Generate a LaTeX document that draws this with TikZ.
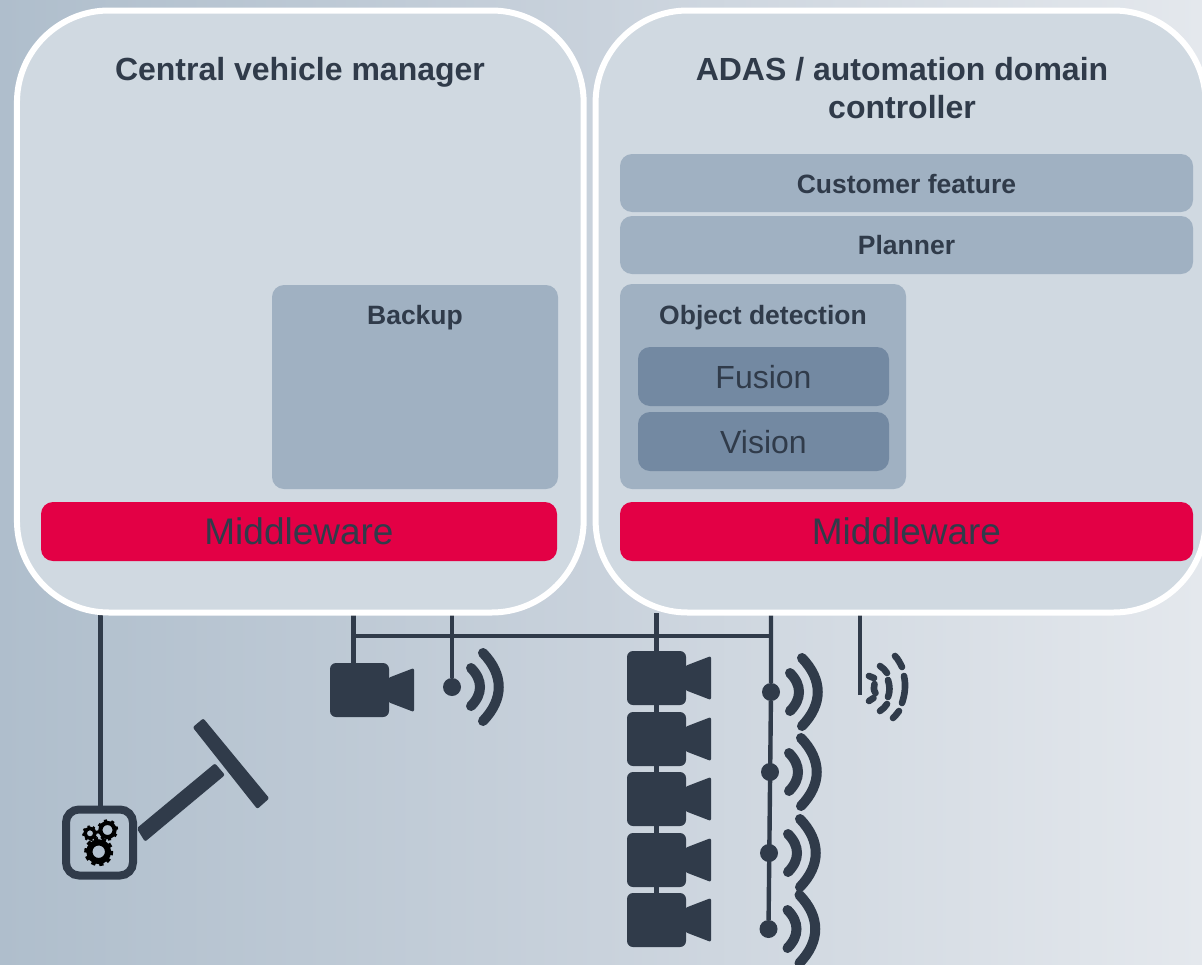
\documentclass[tikz,border=0pt]{standalone}
\usepackage{fontspec}
\setmainfont{Liberation Sans}
\usetikzlibrary{backgrounds}
\definecolor{ink}{HTML}{303B4A}
\definecolor{panel}{HTML}{D0D9E1}
\definecolor{mid}{HTML}{A0B1C2}
\definecolor{deep}{HTML}{7389A2}
\definecolor{red}{HTML}{E30045}
\definecolor{bgl}{HTML}{AFBECC}
\definecolor{bgm}{HTML}{C9D2DC}
\definecolor{bgr}{HTML}{E4E8ED}
\tikzset{
  ecu/.style={rectangle,draw=white,line width=6pt,fill=panel,rounded corners=92pt,inner sep=0,outer sep=0},
  block/.style={rectangle,rounded corners=12pt,fill=mid,inner sep=0,outer sep=0},
  inner/.style={rectangle,rounded corners=12pt,fill=deep,inner sep=0,outer sep=0},
  innertext/.style={text=ink,font=\fontsize{32}{36}\selectfont,inner sep=0},
  mw/.style={rectangle,rounded corners=12pt,fill=red,inner sep=0,outer sep=0,text=ink,font=\fontsize{37}{40}\selectfont},
  titletext/.style={text=ink,font=\bfseries\fontsize{32}{38}\selectfont,align=center,inner sep=0},
  smalltitle/.style={text=ink,font=\bfseries\fontsize{26.5}{30}\selectfont,inner sep=0},
  camerabody/.style={rectangle,rounded corners=6pt,fill=ink,minimum width=59pt,minimum height=54pt,inner sep=0,outer sep=0},
  wavedot/.style={circle,fill=ink,minimum size=18pt,inner sep=0,outer sep=0},
  wire/.style={draw=ink,line width=4.4pt},
  arcline/.style={draw=ink,line width=10pt,line cap=round},
  jam/.style={draw=ink,line width=6.6pt,line cap=round}
}
\newcommand{\camera}[3]{%
  \node[camerabody,anchor=north west] (#1) at (#2,#3) {};
  \fill[ink,rounded corners=2pt,shift={(#2,#3)}] (58,15) -- (84,5) -- (84,49) -- (58,39) -- cycle;
}
\newcommand{\wavesym}[3]{%
  \node[wavedot] (#1) at (#2,#3) {};
  \begin{scope}[shift={(#2,#3)}]
    \draw[arcline] (19,-19) .. controls (31,-7) and (31,7) .. (19,19);
    \draw[arcline] (31,-34) .. controls (52,-12) and (52,12) .. (31,34);
  \end{scope}
}
\newcommand{\gearsym}[5]{%
  \begin{scope}[shift={(#1,#2)}]
    \foreach \a in {0,#5,...,359}{
      \fill[black,rotate=\a+12] (-#3*0.15,-#3) rectangle (#3*0.15,#3*-0.7);
    }
    \draw[black,line width=#3*1pt-#4*1pt-#3*0.14pt] (0,0) circle ({(#3*0.86+#4)/2});
  \end{scope}
}
\begin{document}
\begin{tikzpicture}[x=1pt,y=-1pt]
\useasboundingbox (0,0) rectangle (1202,964);

% controllers
\node[ecu,minimum width=566.7pt,minimum height=602pt] (cvm) at (300.3,311.5) {};
\node[ecu,minimum width=610pt,minimum height=602pt] (adas) at (900.6,311.5) {};
\node[titletext] (cvmtitle) at (300,72) {Central vehicle manager};
\node[titletext] (adastitle) at (902,88) {ADAS / automation domain\\controller};

% left contents
\node[block,minimum width=286pt,minimum height=204pt] (backup) at (415,387) {};
\node[smalltitle] (backuptext) at (415,318) {Backup};
\node[mw,minimum width=516pt,minimum height=59pt] (mwl) at (299,531.5) {Middleware};

% right contents
\node[block,minimum width=573pt,minimum height=58pt] (feature) at (906.5,183) {};
\node[smalltitle] (featuretext) at (906.5,184.5) {Customer feature};
\node[block,minimum width=573pt,minimum height=58pt] (planner) at (906.5,245) {};
\node[smalltitle] (plannertext) at (906.5,245) {Planner};
\node[block,minimum width=286pt,minimum height=205pt] (objdet) at (763,386.5) {};
\node[smalltitle] (objtext) at (763,318) {Object detection};
\node[inner,minimum width=251pt,minimum height=59pt] (fusion) at (763.5,376.5) {};
\node[innertext] (fusiontext) at (763.5,377.5) {Fusion};
\node[inner,minimum width=251pt,minimum height=59pt] (vision) at (763.5,441.5) {};
\node[innertext] (visiontext) at (763.5,442.5) {Vision};
\node[mw,minimum width=573pt,minimum height=59pt] (mwr) at (906.5,531.5) {Middleware};

% cameras
\camera{camA}{330}{663}
\camera{camB}{627}{651}
\camera{camC}{627}{712}
\camera{camD}{627}{772}
\camera{camE}{627}{833}
\camera{camF}{627}{893}

% radars
\wavesym{radA}{452}{687}
\wavesym{radB}{771}{692}
\wavesym{radC}{770}{772}
\wavesym{radD}{769}{853}
\wavesym{radE}{768.5}{929}

% broken radar symbol
\coordinate (jamtop) at (860,695);
\begin{scope}[every path/.style={jam}]
  \draw (895,656) .. controls (898,659) and (900,663) .. (902,667);
  \draw (904,676) .. controls (906,685) and (905,694) .. (902,703);
  \draw (899,711) .. controls (897,714) and (895,716) .. (893,718);
  \draw (880,666) .. controls (883,668) and (885,670) .. (887,673);
  \draw (888,680) .. controls (890,686) and (890,692) .. (888,697);
  \draw (887,704) .. controls (885,707) and (883,709) .. (880,711);
  \draw (869,676) -- (874,678);
  \draw (874.5,684) .. controls (873.5,687) and (873.5,690) .. (875.5,693);
  \draw (873.5,698) -- (869,701);
\end{scope}

% gear unit
\node[rectangle,draw=ink,line width=8pt,rounded corners=13pt,minimum width=67pt,minimum height=66pt,inner sep=0,outer sep=0] (gearbox) at (99.5,842.5) {};
\gearsym{98.7}{851.7}{14.4}{6.3}{36}
\gearsym{107.5}{830}{10.6}{5}{45}
\gearsym{90}{833.3}{7.8}{3.2}{45}

% steering handle
\fill[ink,rounded corners=2pt] (215,763.3) -- (225,775) -- (145,841.7) -- (136.7,828.3) -- cycle;
\fill[ink,rounded corners=2pt] (203.3,718.3) -- (192.7,727.3) -- (257.3,809) -- (269.3,798.3) -- cycle;

% background and connectors, behind the boxes
\coordinate (busL) at (353.5,636);
\coordinate (busR) at (771,636);
\coordinate (camAtop) at (353.5,663);
\begin{scope}[on background layer]
  \fill[left color=bgl,right color=bgm] (0,0) rectangle (601,964);
  \fill[left color=bgm,right color=bgr] (600.5,0) rectangle (1202,964);
  \draw[wire] (gearbox.north) -- (gearbox.north -| 100.5,0) -- (100.5,612);
  \draw[wire] (busL) -- (busR);
  \draw[wire] (camAtop) -- (busL |- cvm.south);
  \draw[wire] (radA) -- (radA |- cvm.south);
  \draw[wire] (camF.north) -- (camF.north |- adas.south);
  \draw[wire] (radE) -- (radB) -- (busR) -- (busR |- adas.south);
  \draw[wire] (jamtop) -- (jamtop |- adas.south);
\end{scope}
\end{tikzpicture}
\end{document}
